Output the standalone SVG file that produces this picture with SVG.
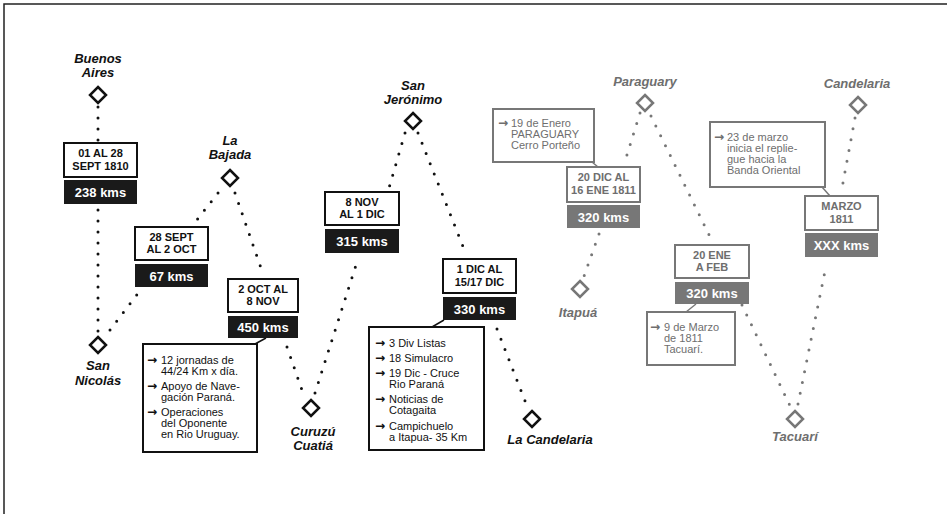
<svg xmlns="http://www.w3.org/2000/svg" width="947" height="514" viewBox="0 0 947 514">
<style>
.lbl{font-family:"Liberation Sans",Arial,sans-serif;font-weight:bold;font-style:italic;font-size:13px;text-anchor:middle}
.bt{font-family:"Liberation Sans",Arial,sans-serif;font-weight:bold;font-size:11px;text-anchor:middle}
.kt{font-family:"Liberation Sans",Arial,sans-serif;font-weight:bold;font-size:13px;text-anchor:middle;fill:#fff}
.nt{font-family:"Liberation Sans",Arial,sans-serif;font-size:11px}
.ar{font-family:"DejaVu Sans",sans-serif;font-weight:bold;font-size:12px}
.k .lbl,.k .bt,.k .nt,.k .ar{fill:#111}
.g .lbl,.g .bt,.g .nt,.g .ar{fill:#6e6e6e}
.k .box{fill:#fff;stroke:#111;stroke-width:2}
.g .box{fill:#fff;stroke:#777;stroke-width:2}
.k .kb{fill:#1a1a1a}
.g .kb{fill:#777}
.dia{stroke-width:2.5;fill:#fff}
.k .dia{stroke:#111}
.g .dia{stroke:#777}
.dots{fill:none;stroke-width:3;stroke-linecap:round;stroke-dasharray:0 11}
.k.dots{stroke:#111}
.g.dots{stroke:#777}
.ln{fill:none;stroke-width:1.5}
.k.ln{stroke:#111}
.g.ln{stroke:#777}
</style>
<rect width="947" height="514" fill="#fff"/>
<path d="M4,514 V4 H947" fill="none" stroke="#222" stroke-width="1.5"/>

<g id="connectors">
<path class="k dots" d="M98,107 L98,142"/>
<path class="k dots" d="M98,210 L98,334"/>
<path class="k dots" d="M110,330 L139,292"/>
<path class="k dots" d="M218,193 L196,221"/>
<path class="k dots" d="M235,193 L262,271"/>
<path class="k dots" d="M287,347 L303,393"/>
<path class="k dots" d="M315,393 L357,262"/>
<path class="k dots" d="M405,133 L389,188"/>
<path class="k dots" d="M418,133 L466,254"/>
<path class="k dots" d="M497,329 L527,406"/>
<path class="g dots" d="M640,113 L626,158"/>
<path class="g dots" d="M599,234 L583,279"/>
<path class="g dots" d="M651,116 L713,243"/>
<path class="g dots" d="M742,305 L792,410"/>
<path class="g dots" d="M798,404 L826,266"/>
<path class="g dots" d="M855,118 L842,188"/>
<path class="k ln" d="M255,344 L266,338"/>
<path class="k ln" d="M432,327 L444,320"/>
<path class="g ln" d="M592,162 L598,167"/>
<path class="g ln" d="M686,312 L696,304"/>
<path class="g ln" d="M822,187 L830,196"/>
</g>

<g id="buenos-aires" class="k">
<text class="lbl" x="98" y="63">Buenos</text>
<text class="lbl" x="98" y="77">Aires</text>
<path class="dia" d="M98,87 L106,95 L98,103 L90,95 Z"/>
</g>
<g id="seg1" class="k">
<rect class="box" x="64" y="143" width="73" height="34"/>
<text class="bt" x="100.5" y="157">01 AL 28</text>
<text class="bt" x="100.5" y="170">SEPT 1810</text>
<rect class="kb" x="64" y="180" width="73" height="24"/>
<text class="kt" x="100.5" y="197">238 kms</text>
</g>
<g id="san-nicolas" class="k">
<path class="dia" d="M98,337 L106,345 L98,353 L90,345 Z"/>
<text class="lbl" x="98" y="370">San</text>
<text class="lbl" x="98" y="385">Nicolás</text>
</g>
<g id="seg2" class="k">
<rect class="box" x="135" y="227" width="73" height="33"/>
<text class="bt" x="171.5" y="241">28 SEPT</text>
<text class="bt" x="171.5" y="253">AL 2 OCT</text>
<rect class="kb" x="135" y="264" width="73" height="23"/>
<text class="kt" x="171.5" y="281">67 kms</text>
</g>
<g id="la-bajada" class="k">
<text class="lbl" x="230" y="145">La</text>
<text class="lbl" x="230" y="159">Bajada</text>
<path class="dia" d="M230,170 L238,178 L230,186 L222,178 Z"/>
</g>
<g id="seg3" class="k">
<rect class="box" x="228" y="279" width="70" height="33"/>
<text class="bt" x="263" y="293">2 OCT AL</text>
<text class="bt" x="263" y="305">8 NOV</text>
<rect class="kb" x="228" y="316" width="70" height="22"/>
<text class="kt" x="263" y="332">450 kms</text>
</g>
<g id="note1" class="k">
<rect class="box" x="143" y="344" width="114" height="108"/>
<text class="ar" x="147" y="364">→</text>
<text class="nt" x="161" y="364">12 jornadas de</text>
<text class="nt" x="161" y="375">44/24 Km x día.</text>
<text class="ar" x="147" y="390">→</text>
<text class="nt" x="161" y="390">Apoyo de Nave-</text>
<text class="nt" x="161" y="401">gación Paraná.</text>
<text class="ar" x="147" y="416">→</text>
<text class="nt" x="161" y="416">Operaciones</text>
<text class="nt" x="161" y="427">del Oponente</text>
<text class="nt" x="161" y="438">en Rio Uruguay.</text>
</g>
<g id="curuzu-cuatia" class="k">
<path class="dia" d="M311,400 L319,408 L311,416 L303,408 Z"/>
<text class="lbl" x="313" y="436">Curuzú</text>
<text class="lbl" x="313" y="450">Cuatiá</text>
</g>
<g id="seg4" class="k">
<rect class="box" x="325" y="192" width="74" height="33"/>
<text class="bt" x="362" y="206">8 NOV</text>
<text class="bt" x="362" y="218">AL 1 DIC</text>
<rect class="kb" x="325" y="229" width="74" height="24"/>
<text class="kt" x="362" y="246">315 kms</text>
</g>
<g id="san-jeronimo" class="k">
<text class="lbl" x="413" y="90">San</text>
<text class="lbl" x="413" y="104">Jerónimo</text>
<path class="dia" d="M413,113 L421,121 L413,129 L405,121 Z"/>
</g>
<g id="seg5" class="k">
<rect class="box" x="443" y="259" width="73" height="34"/>
<text class="bt" x="479.5" y="273">1 DIC AL</text>
<text class="bt" x="479.5" y="286">15/17 DIC</text>
<rect class="kb" x="443" y="297" width="73" height="23"/>
<text class="kt" x="479.5" y="314">330 kms</text>
</g>
<g id="note2" class="k">
<rect class="box" x="369" y="327" width="115" height="123"/>
<text class="ar" x="375" y="347">→</text>
<text class="nt" x="389" y="347">3 Div Listas</text>
<text class="ar" x="375" y="362">→</text>
<text class="nt" x="389" y="362">18 Simulacro</text>
<text class="ar" x="375" y="377">→</text>
<text class="nt" x="389" y="377">19 Dic - Cruce</text>
<text class="nt" x="389" y="388">Rio Paraná</text>
<text class="ar" x="375" y="403">→</text>
<text class="nt" x="389" y="403">Noticias de</text>
<text class="nt" x="389" y="414">Cotagaita</text>
<text class="ar" x="375" y="430">→</text>
<text class="nt" x="389" y="430">Campichuelo</text>
<text class="nt" x="389" y="441">a Itapua- 35 Km</text>
</g>
<g id="la-candelaria" class="k">
<path class="dia" d="M532,411 L540,419 L532,427 L524,419 Z"/>
<text class="lbl" x="550" y="444">La Candelaria</text>
</g>

<g id="paraguary" class="g">
<text class="lbl" x="645" y="86">Paraguary</text>
<path class="dia" d="M645,95 L653,103 L645,111 L637,103 Z"/>
</g>
<g id="note3" class="g">
<rect class="box" x="493" y="109" width="101" height="53"/>
<text class="ar" x="498" y="127">→</text>
<text class="nt" x="511" y="127">19 de Enero</text>
<text class="nt" x="511" y="138">PARAGUARY</text>
<text class="nt" x="511" y="149">Cerro Porteño</text>
</g>
<g id="seg6" class="g">
<rect class="box" x="567" y="167" width="73" height="35"/>
<text class="bt" x="603.5" y="181">20 DIC AL</text>
<text class="bt" x="603.5" y="194">16 ENE 1811</text>
<rect class="kb" x="567" y="205" width="73" height="23"/>
<text class="kt" x="603.5" y="222">320 kms</text>
</g>
<g id="itapua" class="g">
<path class="dia" d="M580,281 L588,289 L580,297 L572,289 Z"/>
<text class="lbl" x="578" y="317">Itapuá</text>
</g>
<g id="seg7" class="g">
<rect class="box" x="675" y="245" width="74" height="33"/>
<text class="bt" x="712" y="259">20 ENE</text>
<text class="bt" x="712" y="271">A FEB</text>
<rect class="kb" x="675" y="282" width="74" height="22"/>
<text class="kt" x="712" y="298">320 kms</text>
</g>
<g id="note4" class="g">
<rect class="box" x="647" y="312" width="88" height="53"/>
<text class="ar" x="650" y="331">→</text>
<text class="nt" x="664" y="331">9 de Marzo</text>
<text class="nt" x="664" y="342">de 1811</text>
<text class="nt" x="664" y="353">Tacuarí.</text>
</g>
<g id="tacuari" class="g">
<path class="dia" d="M795,411 L803,419 L795,427 L787,419 Z"/>
<text class="lbl" x="795" y="441">Tacuarí</text>
</g>
<g id="note5" class="g">
<rect class="box" x="710" y="122" width="115" height="65"/>
<text class="ar" x="714" y="141">→</text>
<text class="nt" x="727" y="141">23 de marzo</text>
<text class="nt" x="727" y="152">inicia el  replie-</text>
<text class="nt" x="727" y="163">gue hacia la</text>
<text class="nt" x="727" y="174">Banda Oriental</text>
</g>
<g id="seg8" class="g">
<rect class="box" x="805" y="196" width="73" height="34"/>
<text class="bt" x="841.5" y="210">MARZO</text>
<text class="bt" x="841.5" y="223">1811</text>
<rect class="kb" x="805" y="233" width="73" height="24"/>
<text class="kt" x="841.5" y="250">XXX kms</text>
</g>
<g id="candelaria" class="g">
<text class="lbl" x="857" y="88">Candelaria</text>
<path class="dia" d="M858,97 L866,105 L858,113 L850,105 Z"/>
</g>
</svg>
